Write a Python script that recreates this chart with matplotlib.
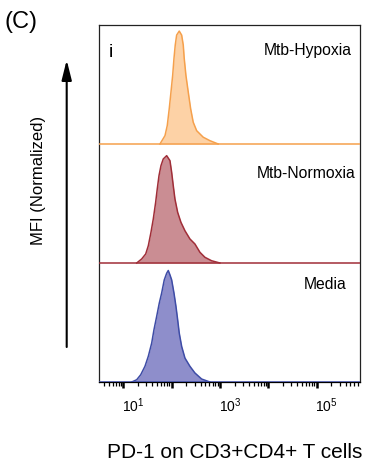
import numpy as np
import matplotlib
matplotlib.use("Agg")
import matplotlib.pyplot as plt
import matplotlib.transforms as mtransforms
from matplotlib.ticker import LogLocator, FixedLocator, FixedFormatter, NullFormatter

plt.rcParams['font.family'] = ['Liberation Sans', 'DejaVu Sans']
plt.rcParams['mathtext.fontset'] = 'custom'
plt.rcParams['mathtext.rm'] = 'Liberation Sans'
plt.rcParams['mathtext.it'] = 'Liberation Sans'

# ---- data (log10 PD-1 intensity, normalized count as % of panel height) ----
samples = ["Mtb-Hypoxia", "Mtb-Normoxia", "Media"]

hyp_log = [1.758, 1.862, 1.909, 1.950, 1.986, 2.021, 2.048, 2.074, 2.103, 2.157,
           2.207, 2.240, 2.260, 2.295, 2.343, 2.393, 2.446, 2.517, 2.653, 2.791, 2.963]
hyp_cnt = [0, 7.0, 15.5, 29.6, 43.7, 57.7, 71.9, 83.1, 91.5, 94.9,
           91.5, 83.1, 71.9, 57.7, 43.7, 29.6, 18.3, 11.2, 5.7, 2.8, 0]

nor_log = [1.277, 1.380, 1.463, 1.517, 1.572, 1.620, 1.669, 1.702, 1.738, 1.779,
           1.826, 1.897, 1.965, 2.000, 2.033, 2.068, 2.124, 2.192, 2.275, 2.378,
           2.481, 2.585, 2.688, 2.826, 2.998]
nor_cnt = [0, 3.4, 7.6, 14.5, 25.8, 37.0, 51.0, 62.2, 73.4, 81.8,
           87.4, 90.2, 86.0, 76.2, 65.0, 53.8, 42.6, 34.2, 27.1, 20.2,
           16.0, 9.0, 4.8, 1.9, 0]

med_log = [1.174, 1.277, 1.360, 1.448, 1.517, 1.587, 1.634, 1.690, 1.744, 1.793,
           1.847, 1.897, 1.930, 1.965, 2.000, 2.048, 2.089, 2.124, 2.157, 2.207,
           2.275, 2.378, 2.481, 2.620, 2.791]
med_cnt = [0, 1.9, 6.1, 13.2, 21.6, 32.7, 43.9, 55.1, 66.3, 74.7,
           85.8, 91.4, 93.7, 90.0, 85.8, 74.7, 63.5, 52.3, 41.1, 29.9,
           20.1, 13.2, 7.6, 2.5, 0]

tick_exps = [1, 2, 3, 4, 5]
label_exps = [1, 3, 5]

line_colors = ["#F5A04C", "#A02E38", "#3E4CA6"]
fill_colors = ["#FDD2A6", "#CA8D93", "#8E8ECB"]

W, H = 366, 468
fig = plt.figure(figsize=(W / 100, H / 100), dpi=100)
ax = fig.add_axes([99 / W, 1 - 382 / H, 261 / W, 357 / H])
ax.set_xscale('log')
ax.set_xlim(10 ** 0.497, 10 ** 5.896)
ax.set_ylim(0, 300)

series = [(hyp_log, hyp_cnt), (nor_log, nor_cnt), (med_log, med_cnt)]
offsets = [200, 100, 0]
for (lg, cnt), off, lc, fc in zip(series, offsets, line_colors, fill_colors):
    x = 10 ** np.array(lg)
    y = np.array(cnt) + off
    ax.fill_between(x, off, y, color=fc, lw=0, zorder=2)
    ax.plot(x, y, color=lc, lw=1.1, zorder=3)
    ax.axhline(off, color=lc, lw=1.1, zorder=3)

for s in ax.spines.values():
    s.set_color('#222222')
    s.set_linewidth(0.9)
ax.spines['bottom'].set_color('black')

ax.set_yticks([])
ax.xaxis.set_major_locator(FixedLocator([10 ** e for e in tick_exps]))
ax.xaxis.set_major_formatter(FixedFormatter(
    [r'$10^{%d}$' % e if e in label_exps else '' for e in tick_exps]))
ax.xaxis.set_minor_locator(LogLocator(base=10, subs=np.arange(2, 10), numticks=20))
ax.xaxis.set_minor_formatter(NullFormatter())
ax.tick_params(axis='x', which='major', direction='out', length=4.5, width=1.8,
               labelsize=10, pad=6, colors='black')
ax.tick_params(axis='x', which='minor', direction='out', length=2.8, width=0.9,
               colors='black')
offset = mtransforms.ScaledTranslation(0.1, 0, fig.dpi_scale_trans)
for lab in ax.xaxis.get_majorticklabels():
    lab.set_transform(lab.get_transform() + offset)

# panel texts
fig.text(263.3 / W, 1 - 55.3 / H, samples[0], ha='left', va='baseline', fontsize=11.3)
fig.text(256.7 / W, 1 - 178.3 / H, samples[1], ha='left', va='baseline', fontsize=11.3)
fig.text(303.3 / W, 1 - 289.0 / H, samples[2], ha='left', va='baseline', fontsize=11.3)
fig.text(108.3 / W, 1 - 56.7 / H, 'i', ha='left', va='baseline', fontsize=14)

fig.text(5 / W, 1 - 22 / H, '(C)', ha='left', va='center', fontsize=17)
fig.text(39 / W, 1 - 180 / H, 'MFI (Normalized)', rotation=90, ha='center',
         va='center', fontsize=12)
fig.text(234.7 / W, 1 - 452 / H, 'PD-1 on CD3+CD4+ T cells', ha='center',
         va='center', fontsize=15)
fig.add_artist(matplotlib.patches.FancyArrowPatch(
    (66.7 / W, 1 - 347 / H), (66.7 / W, 1 - 60 / H), transform=fig.transFigure,
    arrowstyle='-|>,head_length=0.6,head_width=0.15', mutation_scale=20,
    color='black', lw=1.5, shrinkA=0, shrinkB=0))

fig.savefig('out.png', dpi=100)
